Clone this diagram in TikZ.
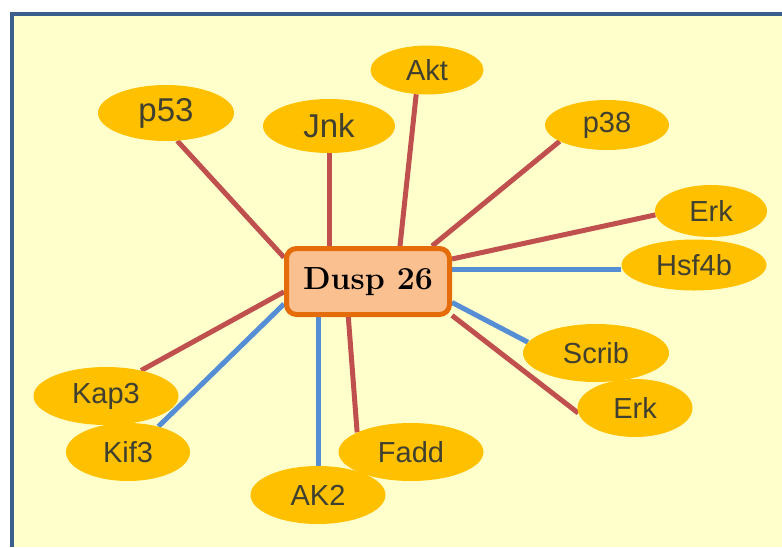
\documentclass[tikz,border=0pt]{standalone}
\usepackage{fontspec}
\newfontfamily\arialfont{Liberation Sans}
\usetikzlibrary{shapes.geometric,backgrounds}
\definecolor{bgyellow}{HTML}{FFFFCC}
\definecolor{framecol}{HTML}{3B5E8C}
\definecolor{protfill}{HTML}{FFC000}
\definecolor{boxfill}{HTML}{FAC090}
\definecolor{boxline}{HTML}{E46C0A}
\definecolor{redline}{HTML}{C0504D}
\definecolor{blueline}{HTML}{558ED5}
\definecolor{txtcol}{HTML}{404030}
\tikzset{
  prot/.style={ellipse, fill=protfill, inner sep=0pt, text=txtcol,
    font=\arialfont\fontsize{29}{32}\selectfont},
  bigprot/.style={prot, font=\arialfont\fontsize{33}{36}\selectfont},
  hub/.style={rectangle, rounded corners=10pt, draw=boxline, line width=5pt,
    fill=boxfill, minimum width=163pt, minimum height=66pt, inner sep=0pt,
    font=\fontsize{32}{36}\selectfont\bfseries},
  redlink/.style={draw=redline, line width=5pt},
  bluelink/.style={draw=blueline, line width=5pt}
}
\begin{document}
\begin{tikzpicture}[x=1pt,y=-1pt]
\useasboundingbox (0,0) rectangle (782,547);
\begin{scope}[on background layer]
  \fill[white] (0,0) rectangle (782,547);
  \fill[bgyellow] (11.5,14) rectangle (782,547);
  \draw[framecol, line width=4pt] (11.5,547) -- (11.5,14) -- (782,14);
\end{scope}

\node[hub] (dusp) at (368,281.5) {Dusp 26};

\node[bigprot, minimum width=136pt, minimum height=56pt] (p53) at (166,113) {p53};
\node[bigprot, minimum width=132pt, minimum height=54pt] (jnk) at (329,126) {Jnk};
\node[prot, minimum width=113pt, minimum height=49pt] (akt) at (427,70) {Akt};
\node[prot, minimum width=124pt, minimum height=50pt] (p38) at (607,125) {p38};
\node[prot, minimum width=112pt, minimum height=52pt] (erk1) at (711,211) {Erk};
\node[prot, minimum width=145pt, minimum height=51pt] (hsf) at (694,265) {Hsf4b};
\node[prot, minimum width=146pt, minimum height=58pt] (scrib) at (596,353) {Scrib};
\node[prot, minimum width=115pt, minimum height=58pt] (erk2) at (635,408) {Erk};
\node[prot, minimum width=145pt, minimum height=58pt] (kap) at (106,396) {Kap3};
\node[prot, minimum width=124pt, minimum height=58pt] (kif) at (128,452) {Kif3};
\node[prot, minimum width=145pt, minimum height=58pt] (fadd) at (411,452) {Fadd};
\node[prot, minimum width=135pt, minimum height=58pt] (ak2) at (318,495) {AK2};

\begin{scope}[on background layer]
  \path[redlink] (dusp.164) -- (p53.-68);
  \path[redlink] (jnk.south) -- (jnk.south |- dusp.north);
  \path[redlink] (dusp.48) -- (akt.-114);
  \path[redlink] (dusp.29) -- (p38.199);
  \path[redlink] (dusp.15.6) -- (erk1.184);
  \path[bluelink] (dusp.8.5) -- (dusp.8.5 -| hsf.west);
  \path[bluelink] (dusp.-14.4) -- (scrib.171);
  \path[redlink] (dusp.-22) -- (erk2.185);
  \path[redlink] (dusp.187.7) -- (kap.36.6);
  \path[bluelink] (dusp.195.5) -- (kif.40.5);
  \path[bluelink] (ak2.north) -- (ak2.north |- dusp.south);
  \path[redlink] (dusp.241.8) -- (fadd.160.6);
\end{scope}
\end{tikzpicture}
\end{document}
